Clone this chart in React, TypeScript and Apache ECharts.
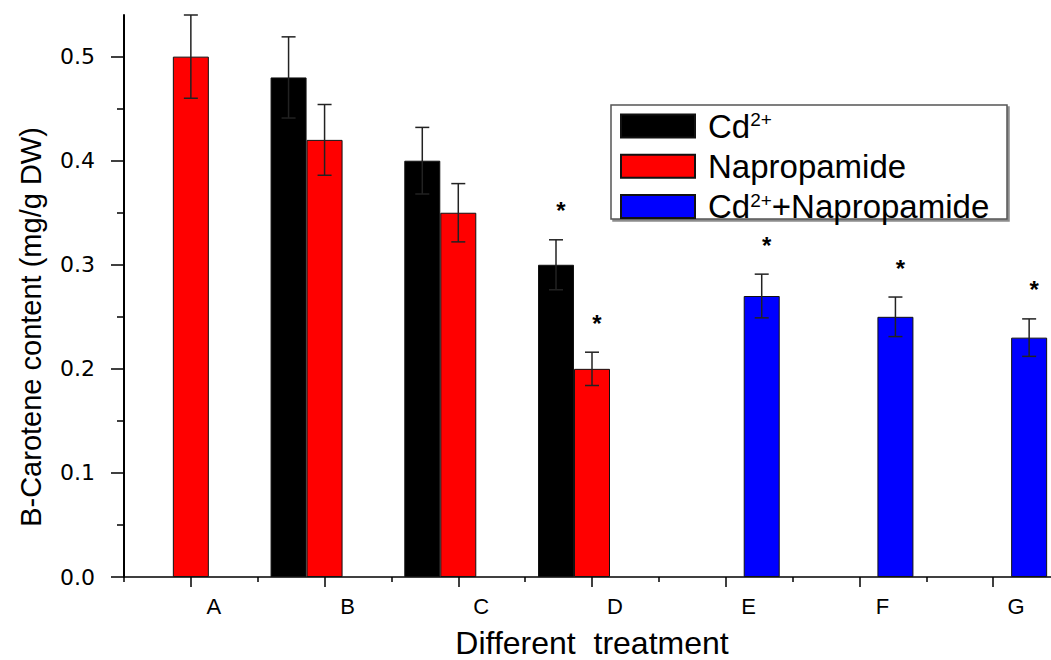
import React, { useEffect, useRef } from 'react';
import * as echarts from 'echarts';

const categories = ['A', 'B', 'C', 'D', 'E', 'F', 'G'];
const seriesNames = ['Cd2+', 'Napropamide', 'Cd2++Napropamide'];
const seriesColors = ['#000000', '#ff0000', '#0000ff'];

const cdValues = [null, 0.48, 0.40, 0.30, null, null, null];
const napValues = [0.50, 0.42, 0.35, 0.20, null, null, null];
const comboValues = [null, null, null, null, 0.27, 0.25, 0.23];

const cdErrors = [null, 0.039, 0.032, 0.024, null, null, null];
const napErrors = [0.04, 0.034, 0.028, 0.016, null, null, null];
const comboErrors = [null, null, null, null, 0.021, 0.019, 0.018];

const cdSignif = [false, false, false, true, false, false, false];
const napSignif = [false, false, false, true, false, false, false];
const comboSignif = [false, false, false, false, true, true, true];

const yMin = 0;
const yMax = 0.5;
const yInterval = 0.1;

const FONT = '"Liberation Sans", Arial, Helvetica, sans-serif';
const BAR_W = 36;

const allValues = [cdValues, napValues, comboValues];
const allErrors = [cdErrors, napErrors, comboErrors];
const allSignif = [cdSignif, napSignif, comboSignif];

function errorData(k: number) {
  const out: any[] = [];
  allValues[k].forEach((v, i) => {
    if (v !== null && allErrors[k][i] !== null) {
      out.push([i, v, allErrors[k][i], allSignif[k][i] ? 1 : 0]);
    }
  });
  return out;
}

function makeErrorSeries(k: number) {
  const offset = (k - 1) * BAR_W;
  return {
    type: 'custom',
    name: seriesNames[k] + ' error',
    xAxisIndex: 0,
    yAxisIndex: 0,
    z: 5,
    silent: true,
    data: errorData(k),
    encode: { x: 0, y: 1 },
    renderItem: (params: any, api: any) => {
      const idx = api.value(0);
      const v = api.value(1);
      const e = api.value(2);
      const sig = api.value(3);
      const top = api.coord([idx, v + e]);
      const bot = api.coord([idx, v - e]);
      const x = top[0] + offset;
      const cap = 7;
      const st = { stroke: '#222', lineWidth: 1.5 };
      const children: any[] = [
        { type: 'line', shape: { x1: x, y1: top[1], x2: x, y2: bot[1] }, style: st },
        { type: 'line', shape: { x1: x - cap, y1: top[1], x2: x + cap, y2: top[1] }, style: st },
        { type: 'line', shape: { x1: x - cap, y1: bot[1], x2: x + cap, y2: bot[1] }, style: st },
      ];
      if (sig) {
        children.push({
          type: 'text',
          style: {
            text: '*',
            x: x + 5,
            y: top[1] - 29,
            fill: '#000',
            font: `bold 24px ${FONT}`,
            align: 'center',
            verticalAlign: 'middle',
          },
        });
      }
      return { type: 'group', children };
    },
  };
}

export default function App() {
  const ref = useRef<HTMLDivElement>(null);
  useEffect(() => {
    if (!ref.current) return;
    const chart = echarts.init(ref.current, null, { renderer: 'svg' });
    const option: any = {
      animation: false,
      backgroundColor: '#ffffff',
      grid: [
        { left: 124, right: -9, top: 15, bottom: 83, containLabel: false, outerBoundsMode: 'none' },
        { left: 124, right: -9, top: 56.6, bottom: 83, containLabel: false, outerBoundsMode: 'none' },
      ],
      legend: {
        data: seriesNames,
        orient: 'vertical',
        left: 615,
        top: 104.5,
        itemWidth: 74,
        itemHeight: 23,
        itemGap: 7.3,
        icon: 'rect',
        selectedMode: false,
        z: 10,
        formatter: (name: string) =>
          name === 'Cd2+' ? 'Cd{sup|2+}' : name === 'Cd2++Napropamide' ? 'Cd{sup|2+}+Napropamide' : name,
        textStyle: {
          fontSize: 33,
          fontFamily: FONT,
          color: '#000',
          lineHeight: 32,
          padding: [0, 0, 0, 8],
          rich: {
            sup: { fontSize: 19, fontFamily: FONT, color: '#000', verticalAlign: 'top', lineHeight: 18 },
          },
        },
      },
      graphic: [
        {
          type: 'rect',
          z: 1,
          shape: { x: 611, y: 105, width: 396, height: 114 },
          style: {
            fill: '#fff',
            stroke: '#555',
            lineWidth: 1.5,
            shadowColor: 'rgba(0,0,0,0.45)',
            shadowOffsetX: 2,
            shadowOffsetY: 2,
            shadowBlur: 0,
          },
        },
        {
          type: 'text',
          x: 31,
          y: 327,
          rotation: Math.PI / 2,
          style: {
            text: 'B-Carotene content (mg/g DW)',
            font: `29px ${FONT}`,
            fill: '#000',
            align: 'center',
            verticalAlign: 'middle',
          },
        },
      ],
      xAxis: [
        {
          type: 'category',
          gridIndex: 0,
          position: 'bottom',
          data: categories,
          axisLine: { show: true, lineStyle: { color: '#000', width: 1.5 } },
          axisTick: { show: true, alignWithLabel: true, length: 10, lineStyle: { color: '#000', width: 1.5 } },
          axisLabel: {
            color: '#000',
            fontSize: 22,
            fontFamily: FONT,
            margin: 18,
            padding: [0, 0, 0, 46],
          },
          splitLine: { show: false },
          name: 'Different  treatment',
          nameLocation: 'middle',
          nameGap: 50,
          nameTextStyle: { fontSize: 32, fontFamily: FONT, color: '#000' },
        },
        {
          type: 'category',
          gridIndex: 0,
          position: 'bottom',
          data: categories,
          axisLine: { show: false },
          axisTick: { show: true, length: 5, lineStyle: { color: '#000', width: 1.5 } },
          axisLabel: { show: false },
          splitLine: { show: false },
        },
        {
          type: 'category',
          gridIndex: 1,
          data: categories,
          show: false,
        },
      ],
      yAxis: [
        {
          type: 'value',
          gridIndex: 0,
          min: 0,
          max: 0.54,
          axisLine: { show: true, lineStyle: { color: '#000', width: 2 } },
          axisTick: { show: false },
          axisLabel: { show: false },
          splitLine: { show: false },
        },
        {
          type: 'value',
          gridIndex: 1,
          min: yMin,
          max: yMax,
          interval: yInterval,
          axisLine: { show: false },
          axisTick: { show: true, length: 13, lineStyle: { color: '#000', width: 1.5 } },
          minorTick: { show: true, splitNumber: 2, length: 7, lineStyle: { color: '#000', width: 1.5 } },
          axisLabel: {
            color: '#000',
            fontSize: 22,
            fontFamily: '"DejaVu Sans", sans-serif',
            margin: 29,
            formatter: (v: number) => v.toFixed(1),
          },
          splitLine: { show: false },
          minorSplitLine: { show: false },
        },
      ],
      series: [
        ...allValues.map((vals, k) => ({
          type: 'bar',
          name: seriesNames[k],
          xAxisIndex: 0,
          yAxisIndex: 0,
          barWidth: BAR_W,
          barGap: '0%',
          data: vals,
          itemStyle: { color: seriesColors[k], borderColor: '#111', borderWidth: 1 },
          z: 2,
        })),
        makeErrorSeries(0),
        makeErrorSeries(1),
        makeErrorSeries(2),
      ],
    };
    chart.setOption(option);
    return () => chart.dispose();
  }, []);
  return <div ref={ref} style={{ width: 1051, height: 660, position: 'absolute', left: 0, top: 0 }} />;
}
